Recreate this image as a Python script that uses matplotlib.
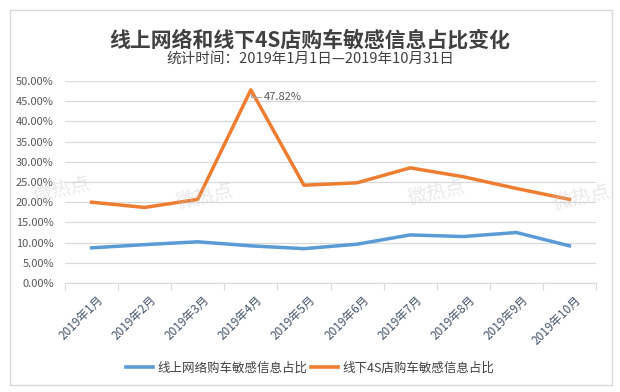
import matplotlib
matplotlib.use("Agg")
import matplotlib.pyplot as plt
from matplotlib.lines import Line2D
from matplotlib.patches import Rectangle
from matplotlib.ticker import FuncFormatter, FixedLocator
import matplotlib.transforms as mtrans
import numpy as np

plt.rcParams['font.family'] = ['Noto Sans CJK SC', 'DejaVu Sans']

months = ['2019年1月', '2019年2月', '2019年3月', '2019年4月', '2019年5月',
          '2019年6月', '2019年7月', '2019年8月', '2019年9月', '2019年10月']
online = [8.7, 9.5, 10.2, 9.2, 8.5, 9.6, 11.9, 11.5, 12.5, 9.2]
offline = [20.0, 18.7, 20.7, 47.82, 24.2, 24.8, 28.5, 26.3, 23.4, 20.7]
series_names = ['线上网络购车敏感信息占比', '线下4S店购车敏感信息占比']
colors = ['#5B9BD5', '#ED7D31']
title = '线上网络和线下4S店购车敏感信息占比变化'
subtitle = '统计时间：2019年1月1日—2019年10月31日'

W, H = 620, 392
fig = plt.figure(figsize=(W/100, H/100), dpi=100)
fig.patch.set_facecolor('white')
fig.add_artist(Rectangle((10/W, 1-385/H), 602/W, 375/H, transform=fig.transFigure,
                         fill=False, edgecolor='#D9D9D9', linewidth=1))

ax = fig.add_axes([65/W, 1-283/H, (596-65)/W, (283-81)/H])
x = np.arange(len(months))
ax.plot(x, online, color=colors[0], lw=2.5, solid_joinstyle='round', zorder=3)
ax.plot(x, offline, color=colors[1], lw=2.5, solid_joinstyle='round', zorder=3)

ax.set_xlim(-0.5, len(months)-0.5)
ax.set_ylim(0, 50)
ax.set_yticks(np.arange(0, 50.1, 5))
ax.yaxis.set_major_formatter(FuncFormatter(lambda v, p: f'{v:.2f}%'))
ax.grid(axis='y', color='#D9D9D9', lw=0.9)
ax.set_axisbelow(True)
for s in ['top', 'right', 'left']:
    ax.spines[s].set_visible(False)
ax.spines['bottom'].set_color('#D9D9D9')
ax.tick_params(axis='y', length=0, labelsize=8, labelcolor='#595959', pad=8)
ax.xaxis.set_major_locator(FixedLocator(np.arange(-0.5, len(months), 1)))
ax.tick_params(axis='x', which='major', length=5, color='#D9D9D9', labelbottom=False)
ax.set_xticks(x, minor=True)
ax.tick_params(axis='x', which='minor', length=0)
ax.set_xticklabels(months, minor=True, rotation=45, ha='right', va='top',
                   rotation_mode='anchor', fontsize=8.5, color='#44546A')
for lab in ax.get_xticklabels(minor=True):
    lab.set_transform(lab.get_transform() + mtrans.ScaledTranslation(5/100, -6/100, fig.dpi_scale_trans))

# peak annotation
pk = int(np.argmax(offline))
ax.annotate(f'{offline[pk]:.2f}%', xy=(pk, offline[pk]), xytext=(9, -5),
            textcoords='offset points', fontsize=8, color='#595959', va='center', ha='left',
            arrowprops=dict(arrowstyle='-', color='#A6A6A6', lw=0.8,
                            connectionstyle='angle,angleA=0,angleB=90,rad=0', shrinkA=0, shrinkB=2))

# watermarks
for (wx, wy) in [(62, 190), (205, 197), (437, 193), (582, 198)]:
    fig.text(wx/W, 1-wy/H, '微热点', fontsize=14, color='#C8C8C8', alpha=0.4,
             rotation=12, ha='center', va='center')

fig.text(0.5, 1-40/H, title, fontsize=15, fontweight='bold', color='#404040', ha='center', va='center')
fig.text(0.5, 1-59/H, subtitle, fontsize=10.5, color='#404040', ha='center', va='center')

handles = [Line2D([], [], color=c, lw=2.6) for c in colors]
fig.legend(handles, series_names, loc='center', bbox_to_anchor=(0.5, 1-368/H), ncol=2,
           frameon=False, fontsize=9, handlelength=2.2, handletextpad=0.3, columnspacing=0.3,
           labelcolor='#404040')

fig.savefig('out.png', dpi=100, facecolor='white')
